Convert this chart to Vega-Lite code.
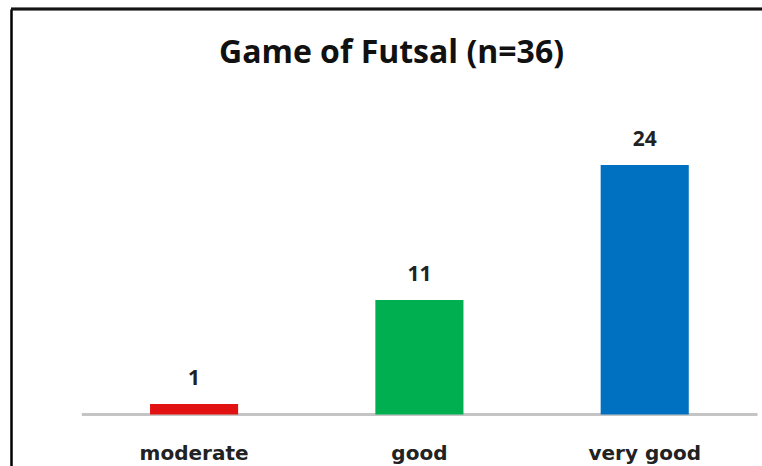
{
  "$schema": "https://vega.github.io/schema/vega-lite/v6.json",
  "width": 751,
  "height": 457,
  "autosize": {"type": "none"},
  "padding": {"left": 11, "top": 9, "right": 0, "bottom": 0},
  "background": "white",
  "config": {"view": {"stroke": null}},
  "title": {
    "text": "Game of Futsal (n=36)",
    "font": "Open Sans",
    "fontWeight": 700,
    "fontSize": 32,
    "color": "#111111",
    "anchor": "middle",
    "frame": "group",
    "baseline": "alphabetic",
    "offset": 0,
    "dy": 87,
    "dx": 5
  },
  "data": {
    "values": [
      {"rating": "moderate", "count": 1},
      {"rating": "good", "count": 11},
      {"rating": "very good", "count": 24}
    ]
  },
  "layer": [
    {
      "mark": {"type": "rule", "color": "#c4c4c4", "strokeWidth": 2.5},
      "encoding": {
        "x": {"datum": "moderate", "type": "nominal", "bandPosition": -0.773,
              "scale": {"domain": ["moderate", "good", "very good"], "paddingInner": 0.609, "paddingOuter": 0.471, "align": 0.655, "round": false}},
        "x2": {"datum": "very good", "bandPosition": 1.777},
        "y": {"datum": 0, "type": "quantitative",
              "scale": {"domain": [-4.954, 39.0], "nice": false, "zero": false}}
      }
    },
    {
      "mark": {"type": "rule", "color": "#141414", "strokeWidth": 2.5, "strokeCap": "butt"},
      "encoding": {
        "y": {"datum": 39.0, "type": "quantitative",
              "scale": {"domain": [-4.954, 39.0], "nice": false, "zero": false}}
      }
    },
    {
      "mark": {"type": "bar"},
      "encoding": {
        "x": {"field": "rating", "type": "nominal",
              "scale": {"domain": ["moderate", "good", "very good"], "paddingInner": 0.609, "paddingOuter": 0.471, "align": 0.655, "round": false},
              "axis": {"orient": "bottom", "offset": -51.5, "domain": false, "ticks": false, "grid": false,
                       "labelFont": "DejaVu Sans", "labelFontWeight": "bold", "labelFontSize": 20, "labelColor": "#222222",
                       "labelAlign": "center", "labelBaseline": "alphabetic", "labelPadding": 45, "labelAngle": 0, "title": null}},
        "y": {"field": "count", "type": "quantitative",
              "scale": {"domain": [-4.954, 39.0], "nice": false, "zero": false},
              "axis": {"orient": "left", "domain": true, "domainColor": "black", "domainWidth": 2.5,
                       "labels": false, "ticks": false, "grid": false, "title": null}},
        "y2": {"datum": 0},
        "color": {"field": "rating", "type": "nominal",
                  "scale": {"domain": ["moderate", "good", "very good"], "range": ["#e31212", "#00b050", "#0070c0"]},
                  "legend": null}
      }
    },
    {
      "mark": {"type": "text", "font": "Open Sans", "fontWeight": 700, "fontSize": 21, "color": "#222222", "baseline": "alphabetic", "dy": -19},
      "encoding": {
        "x": {"field": "rating", "type": "nominal",
              "scale": {"domain": ["moderate", "good", "very good"], "paddingInner": 0.609, "paddingOuter": 0.471, "align": 0.655, "round": false}},
        "y": {"field": "count", "type": "quantitative",
              "scale": {"domain": [-4.954, 39.0], "nice": false, "zero": false}},
        "text": {"field": "count", "type": "quantitative"}
      }
    }
  ]
}
